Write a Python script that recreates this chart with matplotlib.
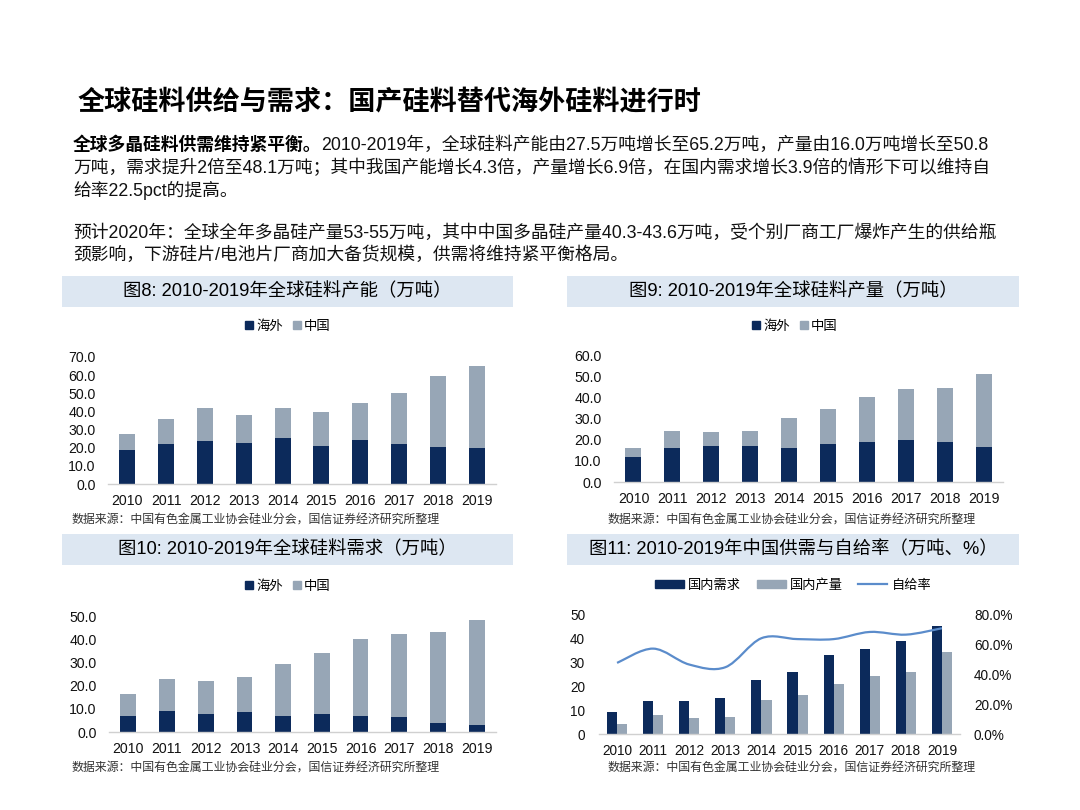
import matplotlib
matplotlib.use("Agg")
import matplotlib.pyplot as plt
from matplotlib.patches import Rectangle, PathPatch
from matplotlib.path import Path
from matplotlib.lines import Line2D
import numpy as np

plt.rcParams['font.family'] = ['Liberation Sans', 'Noto Sans CJK SC', 'DejaVu Sans']

# ---------------- data ----------------
years = ['2010', '2011', '2012', '2013', '2014', '2015', '2016', '2017', '2018', '2019']
cap_overseas = [18.8, 21.8, 23.6, 22.7, 25.3, 20.7, 24.4, 21.8, 20.3, 19.8]
cap_china = [8.7, 13.9, 18.2, 15.2, 16.5, 19.2, 20.5, 28.2, 39.1, 45.4]
prod_overseas = [11.7, 16.1, 17.2, 17.2, 16.1, 18.0, 19.1, 19.9, 19.0, 16.6]
prod_china = [4.3, 7.9, 6.2, 6.9, 14.2, 16.6, 21.0, 24.2, 25.6, 34.2]
dem_overseas = [6.9, 8.9, 7.9, 8.5, 6.9, 7.9, 6.9, 6.3, 3.9, 2.9]
dem_china = [9.3, 14.1, 14.1, 15.0, 22.6, 26.2, 33.2, 35.8, 39.2, 45.2]
cn_demand = [9.2, 13.8, 13.8, 15.1, 22.6, 26.1, 33.1, 35.6, 39.1, 45.3]
cn_output = [4.3, 8.1, 6.6, 7.0, 14.2, 16.5, 21.1, 24.3, 26.1, 34.4]
self_ratio = [0.478, 0.574, 0.467, 0.449, 0.644, 0.638, 0.638, 0.686, 0.668, 0.711]

series_names = ['海外', '中国']
c4_names = ['国内需求', '国内产量', '自给率']
chart_titles = ['图8: 2010-2019年全球硅料产能（万吨）',
                '图9: 2010-2019年全球硅料产量（万吨）',
                '图10: 2010-2019年全球硅料需求（万吨）',
                '图11: 2010-2019年中国供需与自给率（万吨、%）']
source = '数据来源：中国有色金属工业协会硅业分会，国信证券经济研究所整理'
page_title = '全球硅料供给与需求：国产硅料替代海外硅料进行时'
p1_bold = '全球多晶硅料供需维持紧平衡。'
p1_lines = ['2010-2019年，全球硅料产能由27.5万吨增长至65.2万吨，产量由16.0万吨增长至50.8',
            '万吨，需求提升2倍至48.1万吨；其中我国产能增长4.3倍，产量增长6.9倍，在国内需求增长3.9倍的情形下可以维持自',
            '给率22.5pct的提高。']
p2_lines = ['预计2020年：全球全年多晶硅产量53-55万吨，其中中国多晶硅产量40.3-43.6万吨，受个别厂商工厂爆炸产生的供给瓶',
            '颈影响，下游硅片/电池片厂商加大备货规模，供需将维持紧平衡格局。']

# ---------------- style ----------------
NAVY = '#0c2a5b'
GREY = '#97a6b6'
LINE = '#5b8ccb'
BAR_BG = '#dde7f2'
SPINE = '#d0d0d0'
TXT = '#111111'
PFS = 12.8

W, H = 1080, 810
fig = plt.figure(figsize=(W / 100, H / 100), dpi=100)
fig.patch.set_facecolor('white')


def px_axes(x0, y0, x1, y1):
    return fig.add_axes([x0 / W, 1 - y1 / H, (x1 - x0) / W, (y1 - y0) / H])


def fx(x):
    return x / W


def fy(y):
    return 1 - y / H


# ---------------- header text ----------------
fig.text(fx(78), fy(102), page_title, fontsize=19.5, fontweight='bold',
         family=['Noto Sans CJK SC'], va='center', ha='left', color='black')

t_bold = fig.text(fx(73), fy(145), p1_bold, fontsize=PFS, fontweight='bold',
                  family=['Noto Sans CJK SC'], va='center', ha='left', color='black')
fig.canvas.draw()
r = fig.canvas.get_renderer()
bb = t_bold.get_window_extent(renderer=r)
fig.text(bb.x1 / W, fy(145), p1_lines[0], fontsize=PFS, va='center', ha='left', color=TXT)
fig.text(fx(73), fy(168), p1_lines[1], fontsize=PFS, va='center', ha='left', color=TXT)
fig.text(fx(73), fy(190), p1_lines[2], fontsize=PFS, va='center', ha='left', color=TXT)
fig.text(fx(73), fy(233), p2_lines[0], fontsize=PFS, va='center', ha='left', color=TXT)
fig.text(fx(73), fy(255), p2_lines[1], fontsize=PFS, va='center', ha='left', color=TXT)

# ---------------- title bars ----------------
bars_pos = [(62, 276, 513, 307), (567, 276, 1019, 307), (62, 534, 513, 565), (567, 534, 1019, 565)]
for (x0, y0, x1, y1), t in zip(bars_pos, chart_titles):
    fig.patches.append(Rectangle((fx(x0), fy(y1)), (x1 - x0) / W, (y1 - y0) / H,
                                 transform=fig.transFigure, facecolor=BAR_BG, edgecolor='none', zorder=0))
    fig.text(fx((x0 + x1) / 2), fy((y0 + y1) / 2), t, fontsize=13.2, ha='center', va='center', color='black')

# source lines
for x, y in [(72, 520), (607, 520), (72, 768), (607, 768)]:
    fig.text(fx(x), fy(y), source, fontsize=8.6, ha='left', va='center', color='#333333',
             family=['Noto Sans CJK SC'])

x = np.arange(len(years))


def style_axes(ax, ymax, step, fmt, pad_y=9):
    ax.set_xlim(-0.5, len(years) - 0.5)
    ax.set_ylim(0, ymax)
    ax.set_yticks(np.arange(0, ymax + 0.001, step))
    ax.set_yticklabels([fmt.format(v) for v in np.arange(0, ymax + 0.001, step)])
    ax.set_xticks(x)
    ax.set_xticklabels(years)
    for s in ['top', 'right', 'left']:
        ax.spines[s].set_visible(False)
    ax.spines['bottom'].set_color(SPINE)
    ax.spines['bottom'].set_linewidth(1.0)
    ax.tick_params(axis='both', length=0, labelsize=10.2, colors=TXT)
    ax.tick_params(axis='y', pad=pad_y)
    ax.tick_params(axis='x', pad=7)
    ax.set_facecolor('none')


def stacked(ax, over, china, ymax, step, legend_center, legend_y):
    ax.bar(x, over, width=0.41, color=NAVY, zorder=2)
    ax.bar(x, china, width=0.41, bottom=over, color=GREY, zorder=2)
    style_axes(ax, ymax, step, '{:.1f}')
    handles = [Line2D([], [], marker='s', linestyle='none', markersize=5.5, color=NAVY),
               Line2D([], [], marker='s', linestyle='none', markersize=5.5, color=GREY)]
    fig.legend(handles, series_names, loc='center', bbox_to_anchor=(fx(legend_center), fy(legend_y)),
               ncol=2, frameon=False, handlelength=0.6, handletextpad=0.25, columnspacing=0.7,
               prop={'family': ['Noto Sans CJK SC'], 'size': 9.6})


ax1 = px_axes(108, 357, 496, 484)
stacked(ax1, cap_overseas, cap_china, 70, 10, 288, 326)

ax2 = px_axes(614, 355, 1003, 482)
stacked(ax2, prod_overseas, prod_china, 60, 10, 795, 326)

ax3 = px_axes(109, 616, 496, 732)
stacked(ax3, dem_overseas, dem_china, 50, 10, 288, 586)

# chart 4
ax4 = px_axes(599, 615, 960, 734)
bw = 0.28
ax4.bar(x - bw / 2, cn_demand, width=bw, color=NAVY, zorder=2)
ax4.bar(x + bw / 2, cn_output, width=bw, color=GREY, zorder=2)
style_axes(ax4, 50, 10, '{:.0f}', pad_y=10)
ax4.tick_params(axis='both', labelsize=9.8)
ax4b = ax4.twinx()
ax4b.set_ylim(0, 0.8)
ax4b.set_yticks(np.arange(0, 0.8001, 0.2))
ax4b.set_yticklabels(['{:.1f}%'.format(v * 100) for v in np.arange(0, 0.8001, 0.2)])
for s in ['top', 'right', 'left', 'bottom']:
    ax4b.spines[s].set_visible(False)
ax4b.tick_params(axis='y', length=0, labelsize=9.8, colors=TXT, pad=10)

# smoothed line (Catmull-Rom -> cubic Bezier in data coordinates)
pts = np.column_stack([x.astype(float), np.array(self_ratio)])
verts = [tuple(pts[0])]
codes = [Path.MOVETO]
n = len(pts)
for i in range(n - 1):
    p0 = pts[i - 1] if i > 0 else pts[i]
    p1 = pts[i]
    p2 = pts[i + 1]
    p3 = pts[i + 2] if i + 2 < n else pts[i + 1]
    c1 = p1 + (p2 - p0) / 6.0
    c2 = p2 - (p3 - p1) / 6.0
    verts += [tuple(c1), tuple(c2), tuple(p2)]
    codes += [Path.CURVE4] * 3
ax4b.add_patch(PathPatch(Path(verts, codes), facecolor='none', edgecolor=LINE, lw=1.6,
                         transform=ax4b.transData, zorder=3))

h4 = [Rectangle((0, 0), 1, 1, color=NAVY), Rectangle((0, 0), 1, 1, color=GREY),
      Line2D([], [], color=LINE, lw=1.6)]
fig.legend(h4, c4_names, loc='center', bbox_to_anchor=(fx(793), fy(585)), ncol=3, frameon=False,
           handlelength=2.2, handleheight=0.6, handletextpad=0.3, columnspacing=1.2,
           prop={'family': ['Noto Sans CJK SC'], 'size': 9.5})

fig.savefig('out.png', dpi=100, facecolor='white')
